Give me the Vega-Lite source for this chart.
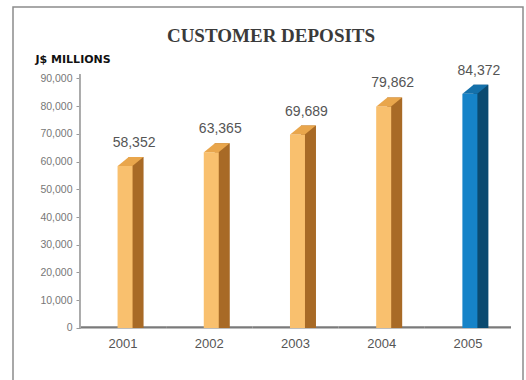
{
  "$schema": "https://vega.github.io/schema/vega-lite/v6.json",
  "width": 510,
  "height": 376,
  "autosize": {"type": "none"},
  "padding": {"left": 13, "top": 7, "right": 3, "bottom": -3},
  "background": "white",
  "config": {
    "view": {"stroke": "#8c8c8c", "strokeWidth": 1.5},
    "font": "Liberation Sans"
  },
  "title": {
    "text": "CUSTOMER DEPOSITS",
    "font": "Liberation Serif",
    "fontSize": 19,
    "fontWeight": "bold",
    "color": "#3a3a3a",
    "anchor": "middle",
    "frame": "group",
    "offset": -39,
    "dx": 3
  },
  "data": {
    "values": [
      {"year": "2001", "deposits": 58352, "label": "58,352"},
      {"year": "2002", "deposits": 63365, "label": "63,365"},
      {"year": "2003", "deposits": 69689, "label": "69,689"},
      {"year": "2004", "deposits": 79862, "label": "79,862"},
      {"year": "2005", "deposits": 84372, "label": "84,372"}
    ]
  },
  "encoding": {
    "x": {
      "field": "year",
      "type": "nominal",
      "scale": {"paddingInner": 0, "paddingOuter": 0.458, "align": 0.848},
      "axis": {
        "title": null,
        "labelAngle": 0,
        "offset": -55,
        "domain": false,
        "ticks": false,
        "labelPadding": 9,
        "labelFontSize": 13,
        "labelColor": "#555555"
      }
    },
    "y": {
      "field": "deposits",
      "type": "quantitative",
      "scale": {"domain": [-19820, 115676], "nice": false, "zero": false},
      "axis": {
        "values": [0, 10000, 20000, 30000, 40000, 50000, 60000, 70000, 80000, 90000],
        "format": ",d",
        "offset": -67,
        "domain": false,
        "grid": false,
        "tickSize": 4,
        "tickColor": "#999999",
        "labelPadding": 4,
        "labelFontSize": 10.5,
        "labelColor": "#777777",
        "title": "J$ MILLIONS",
        "titleAngle": 0,
        "titleX": -45,
        "titleY": 57,
        "titleAlign": "left",
        "titleBaseline": "bottom",
        "titleFont": "DejaVu Sans",
        "titleFontSize": 11,
        "titleFontWeight": "bold",
        "titleColor": "#111111"
      }
    }
  },
  "layer": [
    {
      "mark": {"type": "bar", "width": {"band": 1}, "color": "#7a7a7a"},
      "encoding": {
        "y": {"datum": 600, "type": "quantitative"},
        "y2": {"datum": -150}
      }
    },
    {
      "mark": {"type": "rule", "color": "#aaaaaa", "strokeWidth": 1},
      "encoding": {
        "x": {"datum": "2001", "bandPosition": 0},
        "y": {"datum": 0, "type": "quantitative"},
        "y2": {"datum": 91500}
      }
    },
    {
      "mark": {"type": "bar", "width": {"band": 0.174}, "xOffset": 13, "yOffset": -9},
      "encoding": {
        "y2": {"datum": 0},
        "color": {"condition": {"test": "datum.year === '2005'", "value": "#0B4A70"}, "value": "#A86A26"}
      }
    },
    {
      "mark": {"type": "bar", "width": {"band": 0.174}, "xOffset": 2},
      "encoding": {
        "y2": {"datum": 0},
        "color": {"condition": {"test": "datum.year === '2005'", "value": "#1683C8"}, "value": "#F9C06E"}
      }
    },
    {
      "mark": {"type": "point", "shape": "M -0.735 0 L 0.735 0 L 1.835 -0.9 L 0.365 -0.9 Z", "size": 400, "filled": true, "opacity": 1, "strokeWidth": 0, "xOffset": 2},
      "encoding": {
        "color": {"condition": {"test": "datum.year === '2005'", "value": "#1470AA"}, "value": "#E9A64C"}
      }
    },
    {
      "mark": {"type": "text", "dx": 11, "dy": -19, "baseline": "alphabetic", "fontSize": 14, "color": "#555555"},
      "encoding": {
        "text": {"field": "label"}
      }
    }
  ]
}
